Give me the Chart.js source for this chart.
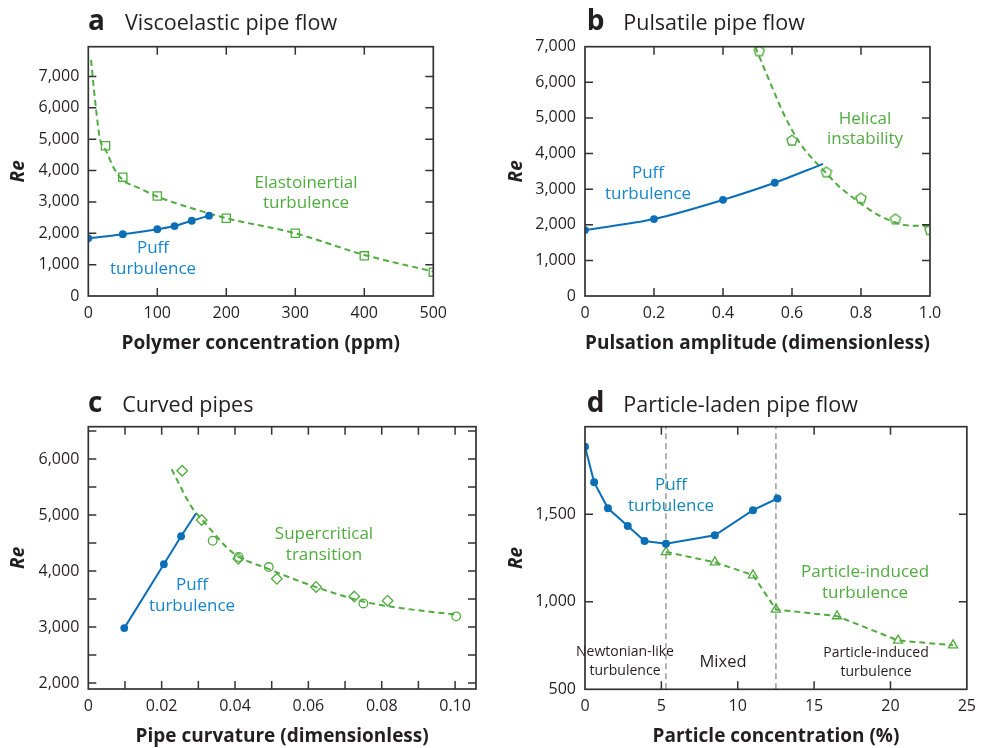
<!DOCTYPE html>
<html><head><meta charset="utf-8">
<script src="https://cdn.jsdelivr.net/npm/chart.js@4/dist/chart.umd.min.js"></script>
<style>
html,body{margin:0;padding:0;background:#fff;}
#wrap{position:relative;width:984px;height:748px;overflow:hidden;background:#fff;}
canvas{position:absolute;}
</style></head><body>
<div id="wrap">
<canvas id="ca" width="492" height="374" style="left:0;top:0;width:492px;height:374px"></canvas>
<canvas id="cb" width="492" height="374" style="left:492px;top:0;width:492px;height:374px"></canvas>
<canvas id="cc" width="492" height="374" style="left:0;top:374px;width:492px;height:374px"></canvas>
<canvas id="cd" width="492" height="374" style="left:492px;top:374px;width:492px;height:374px"></canvas>
</div>
<script>
// ---------- DATA ----------
// Panel a: Viscoelastic pipe flow
const aPuffX = [0, 50, 100, 125, 150, 175];
const aPuffY = [1840, 1970, 2130, 2230, 2400, 2560];
const aEitX  = [25, 50, 100, 200, 300, 400, 500];
const aEitY  = [4790, 3790, 3190, 2480, 2000, 1280, 760];
const aFitX  = [4, 6.3, 11, 17, 25, 39, 50, 75, 100, 150, 200, 300, 400, 500];
const aFitY  = [7530, 7000, 6000, 5000, 4660, 4000, 3700, 3430, 3170, 2800, 2480, 2000, 1310, 780];
const aXTicks = [0, 100, 200, 300, 400, 500];
const aYTicks = [0, 1000, 2000, 3000, 4000, 5000, 6000, 7000];

// Panel b: Pulsatile pipe flow
const bPuffX = [0, 0.2, 0.4, 0.55];
const bPuffY = [1850, 2160, 2700, 3180];
const bPuffLineX = [0, 0.2, 0.4, 0.55, 0.69];
const bPuffLineY = [1850, 2160, 2700, 3180, 3710];
const bHelX = [0.505, 0.6, 0.7, 0.8, 0.9, 1.0];
const bHelY = [6890, 4380, 3490, 2760, 2170, 1870];
const bFitX = [0.493, 0.546, 0.575, 0.623, 0.671, 0.70, 0.737, 0.785, 0.833, 0.882, 0.93, 1.0];
const bFitY = [7000, 5780, 5130, 4290, 3730, 3440, 3070, 2700, 2370, 2130, 1990, 1965];
const bXTicks = [0, 0.2, 0.4, 0.6, 0.8, 1.0];
const bYTicks = [0, 1000, 2000, 3000, 4000, 5000, 6000, 7000];

// Panel c: Curved pipes
const cPuffX = [0.0098, 0.0206, 0.0253];
const cPuffY = [2980, 4120, 4620];
const cPuffLineX = [0.0098, 0.0206, 0.0253, 0.0294];
const cPuffLineY = [2980, 4120, 4620, 5030];
const cDiaX = [0.0256, 0.0309, 0.0409, 0.0514, 0.0621, 0.0725, 0.0816];
const cDiaY = [5790, 4910, 4220, 3860, 3715, 3545, 3470];
const cCirX = [0.0339, 0.041, 0.0492, 0.075, 0.1003];
const cCirY = [4540, 4250, 4070, 3420, 3190];
const cFitX = [0.0227, 0.0282, 0.031, 0.0395, 0.0486, 0.0577, 0.0668, 0.0759, 0.085, 0.1003];
const cFitY = [5816, 5140, 4920, 4320, 4050, 3815, 3610, 3440, 3340, 3220];
const cXTicks = [0, 0.02, 0.04, 0.06, 0.08, 0.10];
const cXMarks = [0.01, 0.02, 0.03, 0.04, 0.05, 0.06, 0.07, 0.08, 0.09, 0.10];
const cYTicks = [2000, 3000, 4000, 5000, 6000];
const cYMarks = [2000, 2500, 3000, 3500, 4000, 4500, 5000, 5500, 6000, 6500];

// Panel d: Particle-laden pipe flow
const dPuffX = [0, 0.6, 1.5, 2.8, 3.9, 5.3, 8.5, 11.0, 12.6];
const dPuffY = [1886, 1682, 1534, 1433, 1347, 1332, 1380, 1523, 1590];
const dPartX = [5.3, 8.5, 11.0, 12.5, 16.5, 20.5, 24.1];
const dPartY = [1284, 1226, 1152, 956, 918, 779, 752];
const dDividers = [5.3, 12.5];
const dXTicks = [0, 5, 10, 15, 20, 25];
const dYTicks = [500, 1000, 1500];
const dYMarks = [1000, 1500];

// ---------- STYLE ----------
const GREEN = '#50ac3f';
const BLUE = '#0b6fb8';
const BLUE_TXT = '#1785cc';
const INK = '#231f20';
const FONT = "'Open Sans', 'Noto Sans', sans-serif";
Chart.defaults.font.family = FONT;
Chart.defaults.color = INK;

const pts = (xs, ys) => xs.map((x, i) => ({x, y: ys[i]}));

function pentagon(color) {
  const c = document.createElement('canvas');
  c.width = 14; c.height = 14;
  const g = c.getContext('2d');
  g.strokeStyle = color; g.lineWidth = 1.4;
  g.beginPath();
  for (let i = 0; i < 5; i++) {
    const a = -Math.PI / 2 + i * 2 * Math.PI / 5;
    const px = 7 + 5.4 * Math.cos(a), py = 7.6 + 5.4 * Math.sin(a);
    i ? g.lineTo(px, py) : g.moveTo(px, py);
  }
  g.closePath(); g.stroke();
  return c;
}

function lineDs(data, color, dashed, smooth) {
  return {data, showLine: true, borderColor: color, borderWidth: 2, pointRadius: 0, pointHoverRadius: 0,
    borderDash: dashed ? [6, 4] : [], cubicInterpolationMode: smooth ? 'monotone' : 'default', tension: 0,
    fill: false, clip: 0, order: 1};
}
function markDs(data, style, r, color, filled) {
  return {data, showLine: false, pointStyle: style, pointRadius: r, pointHoverRadius: r,
    backgroundColor: filled ? color : 'rgba(255,255,255,0)', borderColor: color,
    pointBorderWidth: filled ? 0 : 1.3, borderWidth: filled ? 0 : 1.3, clip: 0, order: 0};
}
function vline(x, y0, y1) {
  return {data: [{x, y: y0}, {x, y: y1}], showLine: true, borderColor: '#9a9a9a', borderWidth: 1.5,
    borderDash: [6, 4], pointRadius: 0, pointHoverRadius: 0, fill: false, clip: 0, order: 2};
}

const framePlugin = {
  id: 'frame',
  afterDatasetsDraw(chart, args, o) {
    const {ctx, chartArea: a} = chart;
    const x = chart.scales.x, y = chart.scales.y;
    ctx.save();
    // annotations
    for (const an of o.notes) {
      ctx.font = `400 ${an.size}px ${FONT}`;
      ctx.fillStyle = an.color; ctx.textAlign = 'center'; ctx.textBaseline = 'middle';
      an.lines.forEach((t, i) => ctx.fillText(t, an.x, an.y + i * an.lh));
    }
    // frame + inward ticks
    ctx.strokeStyle = '#333333'; ctx.lineWidth = 1.7;
    ctx.strokeRect(a.left, a.top, a.right - a.left, a.bottom - a.top);
    ctx.lineWidth = 1.5;
    ctx.beginPath();
    for (const v of o.xMarks) {
      const px = x.getPixelForValue(v);
      ctx.moveTo(px, a.bottom); ctx.lineTo(px, a.bottom - 8);
      ctx.moveTo(px, a.top); ctx.lineTo(px, a.top + 8);
    }
    for (const v of o.yMarks) {
      const py = y.getPixelForValue(v);
      ctx.moveTo(a.left, py); ctx.lineTo(a.left + 8, py);
      ctx.moveTo(a.right, py); ctx.lineTo(a.right - 8, py);
    }
    ctx.stroke();
    // panel heading
    ctx.fillStyle = INK; ctx.textAlign = 'left'; ctx.textBaseline = 'alphabetic';
    ctx.font = `700 28px ${FONT}`; ctx.fillText(o.letter, o.letterX, o.baseY);
    ctx.font = `400 21.5px ${FONT}`; ctx.fillText(o.title, o.titleX, o.baseY);
    ctx.restore();
  }
};

const fmtThousands = v => Number(v).toLocaleString('en-US');

function makeChart(id, datasets, p) {
  const H = 374, W = 492;
  return new Chart(document.getElementById(id), {
    type: 'scatter',
    data: {datasets},
    options: {
      responsive: false, animation: false, devicePixelRatio: 1, events: [],
      layout: {padding: {left: 0, top: p.area.top, right: W - p.area.right, bottom: 0}},
      plugins: {legend: {display: false}, tooltip: {enabled: false}, frame: p},
      scales: {
        x: {
          type: 'linear', min: p.xMin, max: p.xMax,
          grid: {display: false, drawTicks: false}, border: {display: false},
          afterBuildTicks: s => { s.ticks = p.xTicks.map(v => ({value: v})); },
          afterFit: s => { s.height = H - p.area.bottom; },
          ticks: {padding: 8, font: {size: 16}, color: INK, callback: p.xFmt, maxRotation: 0, autoSkip: false},
          title: {display: true, text: p.xTitle, color: INK, font: {size: 19, weight: 'bold'},
                  padding: {top: 0, bottom: p.xTitlePad}}
        },
        y: {
          type: 'linear', min: p.yMin, max: p.yMax,
          grid: {display: false, drawTicks: false}, border: {display: false},
          afterBuildTicks: s => { s.ticks = p.yTicks.map(v => ({value: v})); },
          afterFit: s => { s.width = p.area.left; },
          ticks: {padding: 9, font: {size: 16}, color: INK, callback: p.yFmt, autoSkip: false},
          title: {display: true, text: 'Re', color: INK, font: {size: 19, weight: 'bold', style: 'italic'},
                  padding: {top: p.yTitlePad, bottom: 0}}
        }
      }
    },
    plugins: [framePlugin]
  });
}

// ---------- PANEL a ----------
makeChart('ca', [
  markDs(pts(aPuffX, aPuffY), 'circle', 3.9, BLUE, true),
  markDs(pts(aEitX, aEitY), 'rect', 5.8, GREEN, false),
  lineDs(pts(aPuffX, aPuffY), BLUE, false, true),
  lineDs(pts(aFitX, aFitY), GREEN, true, true)
], {
  area: {left: 88.3, top: 46.7, right: 433.3, bottom: 296},
  xMin: 0, xMax: 500, yMin: 0, yMax: 7950,
  xTicks: aXTicks, yTicks: aYTicks, xMarks: [100, 200, 300, 400], yMarks: [1000, 2000, 3000, 4000, 5000, 6000, 7000],
  xFmt: v => String(v), yFmt: fmtThousands,
  xTitle: 'Polymer concentration (ppm)', xTitlePad: 18.6, yTitlePad: 6.9,
  letter: 'a', letterX: 88, title: 'Viscoelastic pipe flow', titleX: 125, baseY: 30,
  notes: [
    {lines: ['Elastoinertial', 'turbulence'], x: 306, y: 183, lh: 20, size: 17, color: GREEN},
    {lines: ['Puff', 'turbulence'], x: 153, y: 248, lh: 21, size: 17, color: BLUE_TXT}
  ]
});

// ---------- PANEL b ----------
makeChart('cb', [
  markDs(pts(bPuffX, bPuffY), 'circle', 3.9, BLUE, true),
  markDs(pts(bHelX, bHelY), pentagon(GREEN), 6, GREEN, false),
  lineDs(pts(bPuffLineX, bPuffLineY), BLUE, false, true),
  lineDs(pts(bFitX, bFitY), GREEN, true, true)
], {
  area: {left: 93, top: 46.7, right: 438, bottom: 296},
  xMin: 0, xMax: 1, yMin: 0, yMax: 7000,
  xTicks: bXTicks, yTicks: bYTicks, xMarks: [0.2, 0.4, 0.6, 0.8], yMarks: [1000, 2000, 3000, 4000, 5000, 6000],
  xFmt: v => v === 0 ? '0' : Number(v).toFixed(1), yFmt: fmtThousands,
  xTitle: 'Pulsation amplitude (dimensionless)', xTitlePad: 18.6, yTitlePad: 13.6,
  letter: 'b', letterX: 94.7, title: 'Pulsatile pipe flow', titleX: 131.3, baseY: 30,
  notes: [
    {lines: ['Helical', 'instability'], x: 373, y: 119, lh: 20, size: 17, color: GREEN},
    {lines: ['Puff', 'turbulence'], x: 156, y: 173, lh: 21, size: 17, color: BLUE_TXT}
  ]
});

// ---------- PANEL c ----------
makeChart('cc', [
  markDs(pts(cPuffX, cPuffY), 'circle', 3.9, BLUE, true),
  markDs(pts(cDiaX, cDiaY), 'rectRot', 5.3, GREEN, false),
  markDs(pts(cCirX, cCirY), 'circle', 4.3, GREEN, false),
  lineDs(pts(cPuffLineX, cPuffLineY), BLUE, false, false),
  lineDs(pts(cFitX, cFitY), GREEN, true, true)
], {
  area: {left: 88.3, top: 52.7, right: 476, bottom: 315},
  xMin: 0, xMax: 0.1057, yMin: 1893, yMax: 6576,
  xTicks: cXTicks, yTicks: cYTicks, xMarks: cXMarks, yMarks: cYMarks,
  xFmt: v => v === 0 ? '0' : Number(v).toFixed(2), yFmt: fmtThousands,
  xTitle: 'Pipe curvature (dimensionless)', xTitlePad: 0, yTitlePad: 6.9,
  letter: 'c', letterX: 88, title: 'Curved pipes', titleX: 122.3, baseY: 37.7,
  notes: [
    {lines: ['Supercritical', 'transition'], x: 324, y: 160, lh: 21, size: 17, color: GREEN},
    {lines: ['Puff', 'turbulence'], x: 192, y: 211, lh: 21, size: 17, color: BLUE_TXT}
  ]
});

// ---------- PANEL d ----------
makeChart('cd', [
  markDs(pts(dPuffX, dPuffY), 'circle', 4, BLUE, true),
  markDs(pts(dPartX, dPartY), 'triangle', 5.3, GREEN, false),
  lineDs(pts(dPuffX, dPuffY), BLUE, false, false),
  lineDs(pts(dPartX, dPartY), GREEN, true, false),
  vline(dDividers[0], 500, 2000),
  vline(dDividers[1], 500, 2000)
], {
  area: {left: 93, top: 52.7, right: 481.3, bottom: 315.3},
  xMin: 0, xMax: 25, yMin: 500, yMax: 2000,
  xTicks: dXTicks, yTicks: dYTicks, xMarks: [5, 10, 15, 20], yMarks: dYMarks,
  xFmt: v => String(v), yFmt: fmtThousands,
  xTitle: 'Particle concentration (%)', xTitlePad: 0, yTitlePad: 13.6,
  letter: 'd', letterX: 94.7, title: 'Particle-laden pipe flow', titleX: 131.3, baseY: 37.7,
  notes: [
    {lines: ['Puff', 'turbulence'], x: 179, y: 111, lh: 21, size: 17, color: '#1788b8'},
    {lines: ['Particle-induced', 'turbulence'], x: 373, y: 198, lh: 21, size: 17, color: GREEN},
    {lines: ['Newtonian-like', 'turbulence'], x: 133, y: 278, lh: 19, size: 14, color: INK},
    {lines: ['Mixed'], x: 231, y: 288, lh: 19, size: 16.5, color: INK},
    {lines: ['Particle-induced', 'turbulence'], x: 384, y: 279, lh: 19, size: 14, color: INK}
  ]
});
</script>
</body></html>
